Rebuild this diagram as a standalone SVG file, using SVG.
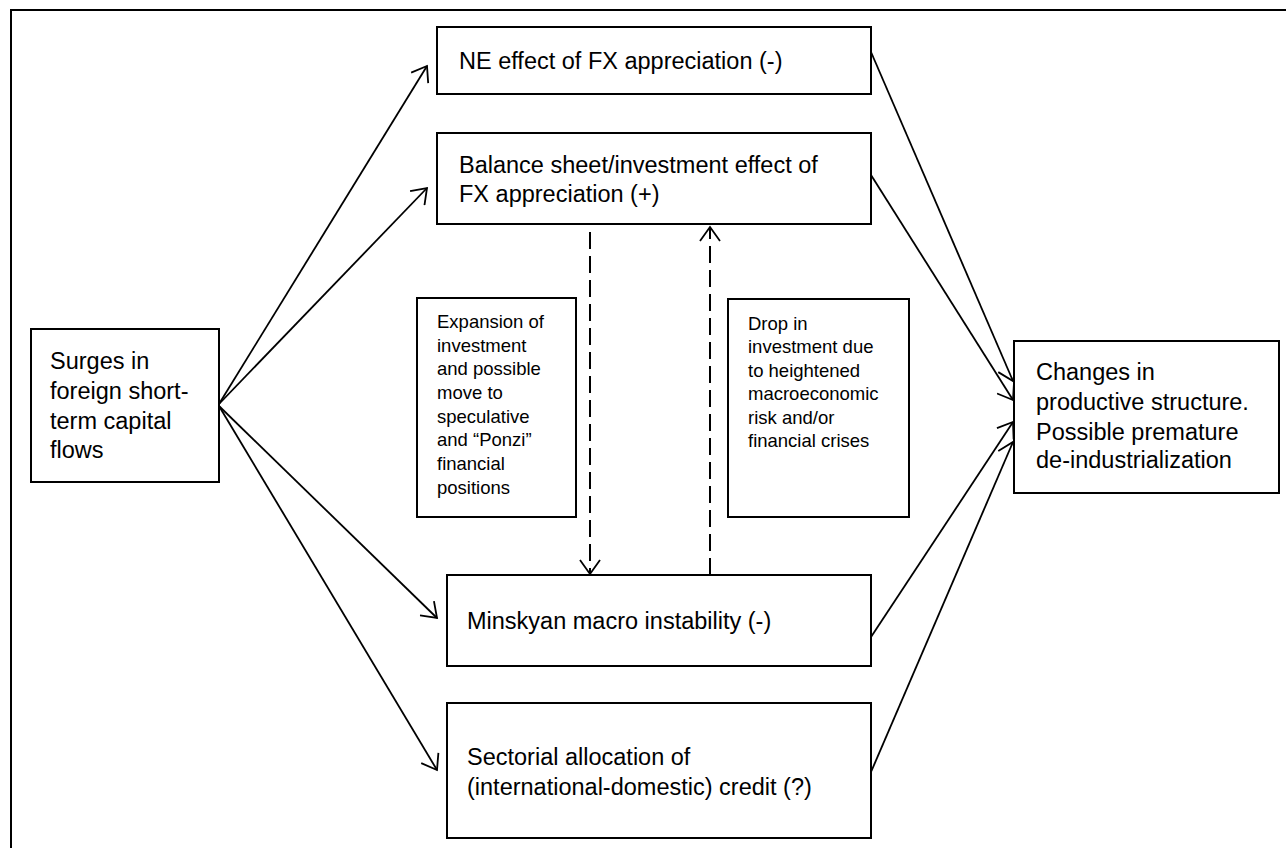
<svg xmlns="http://www.w3.org/2000/svg" width="1286" height="848" viewBox="0 0 1286 848">
<style>
.box{fill:#fff;stroke:#000;stroke-width:2}
.t{font-family:"Liberation Sans",Arial,sans-serif;font-size:23.5px;fill:#000}
.s{font-family:"Liberation Sans",Arial,sans-serif;font-size:18.5px;fill:#000}
.c{fill:none;stroke:#000;stroke-width:1.8}
.d{fill:none;stroke:#000;stroke-width:2;stroke-dasharray:17 7}
</style>
<defs>
<marker id="ah" markerUnits="userSpaceOnUse" markerWidth="18" markerHeight="22" viewBox="0 0 18 22" refX="16" refY="11" orient="auto">
<path d="M2,1 L16,11 L2,21" fill="none" stroke="#000" stroke-width="1.8" stroke-dasharray="none"/>
</marker>
</defs>
<rect width="1286" height="848" fill="#fff"/>
<rect x="11" y="10" width="1290" height="860" fill="none" stroke="#000" stroke-width="2"/>
<g id="connectors">
<path class="c" d="M219,404 L427,66" marker-end="url(#ah)"/>
<path class="c" d="M219,404 L427,188" marker-end="url(#ah)"/>
<path class="c" d="M219,406 L437,618" marker-end="url(#ah)"/>
<path class="c" d="M219,406 L437,770" marker-end="url(#ah)"/>
<path class="c" d="M871,52 L1013,381" marker-end="url(#ah)"/>
<path class="c" d="M871,175 L1013,400" marker-end="url(#ah)"/>
<path class="c" d="M871,637 L1013,422" marker-end="url(#ah)"/>
<path class="c" d="M871,772 L1013,442" marker-end="url(#ah)"/>
<path class="d" d="M590,232 L590,574" marker-end="url(#ah)"/>
<path class="d" d="M710,575 L710,227" marker-end="url(#ah)"/>
</g>
<g id="surges">
<rect class="box" x="31" y="329" width="188" height="153"/>
<text class="t" x="50" y="369">Surges in</text>
<text class="t" x="50" y="399">foreign short-</text>
<text class="t" x="50" y="429">term capital</text>
<text class="t" x="50" y="458">flows</text>
</g>
<g id="ne">
<rect class="box" x="437" y="27" width="434" height="67"/>
<text class="t" x="459" y="69">NE effect of FX appreciation (-)</text>
</g>
<g id="balance">
<rect class="box" x="437" y="133" width="434" height="91"/>
<text class="t" x="459" y="173">Balance sheet/investment effect of</text>
<text class="t" x="459" y="202">FX appreciation (+)</text>
</g>
<g id="expansion">
<rect class="box" x="417" y="298" width="159" height="219"/>
<text class="s" x="437" y="328">Expansion of</text>
<text class="s" x="437" y="352">investment</text>
<text class="s" x="437" y="375">and possible</text>
<text class="s" x="437" y="399">move to</text>
<text class="s" x="437" y="423">speculative</text>
<text class="s" x="437" y="446">and “Ponzi”</text>
<text class="s" x="437" y="470">financial</text>
<text class="s" x="437" y="494">positions</text>
</g>
<g id="drop">
<rect class="box" x="728" y="299" width="181" height="218"/>
<text class="s" x="748" y="330">Drop in</text>
<text class="s" x="748" y="353">investment due</text>
<text class="s" x="748" y="377">to heightened</text>
<text class="s" x="748" y="400">macroeconomic</text>
<text class="s" x="748" y="424">risk and/or</text>
<text class="s" x="748" y="447">financial crises</text>
</g>
<g id="minskyan">
<rect class="box" x="447" y="575" width="424" height="91"/>
<text class="t" x="467" y="629">Minskyan macro instability (-)</text>
</g>
<g id="sectorial">
<rect class="box" x="447" y="703" width="424" height="135"/>
<text class="t" x="467" y="765">Sectorial allocation of</text>
<text class="t" x="467" y="795">(international-domestic) credit (?)</text>
</g>
<g id="changes">
<rect class="box" x="1014" y="341" width="265" height="152"/>
<text class="t" x="1036" y="380">Changes in</text>
<text class="t" x="1036" y="410">productive structure.</text>
<text class="t" x="1036" y="440">Possible premature</text>
<text class="t" x="1036" y="468">de-industrialization</text>
</g>
</svg>
